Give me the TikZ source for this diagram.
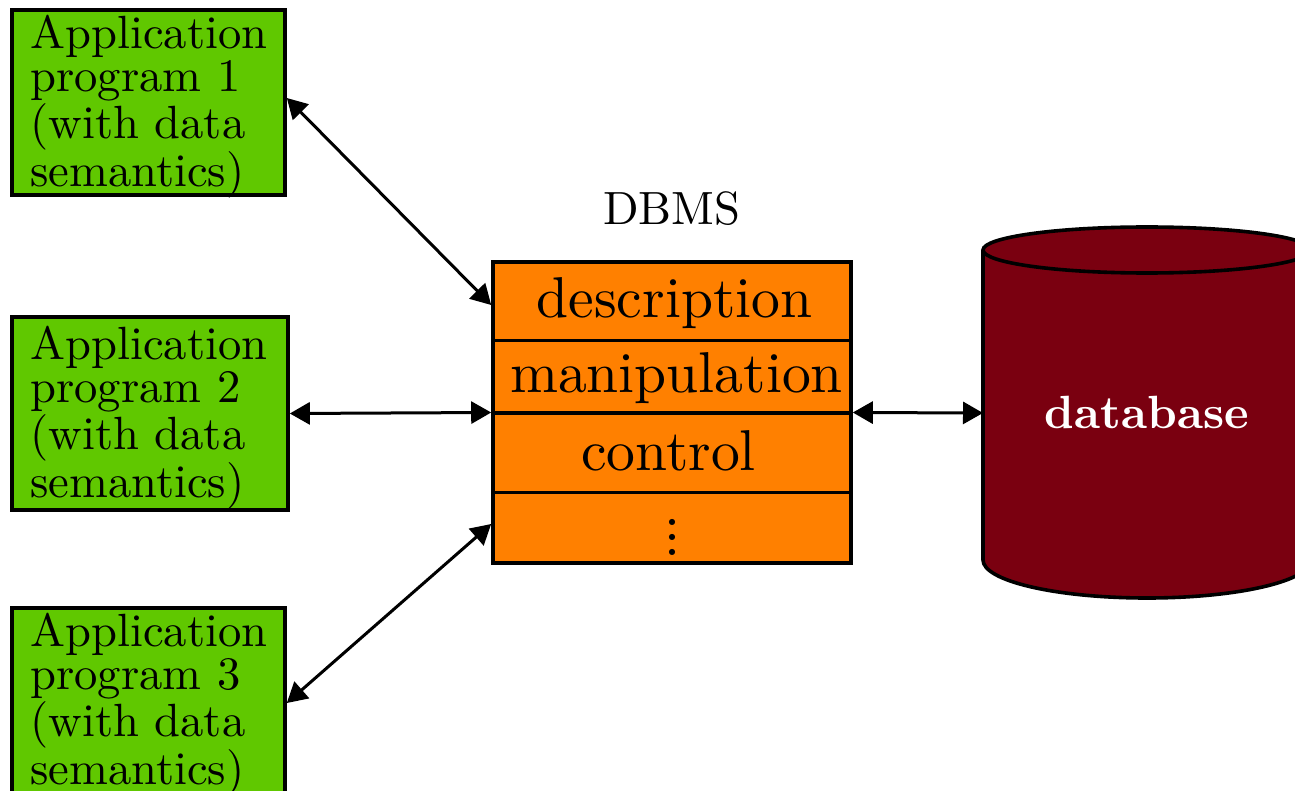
\documentclass[tikz,border=0pt]{standalone}
\usepackage{fontspec}
\setmainfont{lmroman10-regular}[Extension=.otf, BoldFont=lmroman10-bold]
\usetikzlibrary{arrows.meta}
\definecolor{appgreen}{RGB}{96,200,0}
\definecolor{dbmsorange}{RGB}{255,128,0}
\definecolor{dbred}{RGB}{122,0,16}
\newcommand\myvdots{\vbox{\baselineskip7.5pt\lineskiplimit0pt\hbox{.}\hbox{.}\hbox{.}}}
\begin{document}
\begin{tikzpicture}[x=0.5pt,y=-0.5pt,
  appbox/.style={draw, line width=1.8pt, fill=appgreen, rectangle, inner sep=0pt},
  apptext/.style={anchor=west, inner sep=0pt, align=left, font=\fontsize{23.3}{21.5}\selectfont},
  layertext/.style={anchor=base, inner sep=0pt, font=\fontsize{28.8}{30}\selectfont},
  link/.style={line width=1.5pt, {Triangle[length=10pt,width=11pt]}-{Triangle[length=10pt,width=11pt]}}]
\useasboundingbox (0,0) rectangle (1295,791);
% application programs
\node[appbox, minimum width=136.5pt, minimum height=92.5pt] (g1) at (148.5,102.5) {};
\node[apptext] (t1) at (30,107) {Application\\program 1\\(with data\\semantics)};
\node[appbox, minimum width=138pt, minimum height=96.5pt] (g2) at (150,413.5) {};
\node[apptext] (t2) at (30,418) {Application\\program 2\\(with data\\semantics)};
\node[appbox, minimum width=136.5pt, minimum height=92.5pt] (g3) at (148.5,700.5) {};
\node[apptext] (t3) at (30,705) {Application\\program 3\\(with data\\semantics)};
% DBMS
\node[anchor=base, inner sep=0pt, font=\fontsize{23.3}{21.5}\selectfont] (dbmslabel) at (672,225) {DBMS};
\node[draw, line width=1.8pt, fill=dbmsorange, rectangle, minimum width=179pt, minimum height=150.5pt] (dbms) at (672,412.5) {};
\draw[line width=1.5pt] (493,340) -- (851,340);
\draw[line width=2pt] (493,413) -- (851,413);
\draw[line width=1.5pt] (493,492) -- (851,492);
\node[layertext] (desc) at (674.5,317) {description};
\node[layertext] (manip) at (676.5,392) {manipulation};
\node[layertext] (ctrl) at (668.5,470) {control};
\node[anchor=south, inner sep=0pt, font=\fontsize{28.8}{30}\selectfont] (dots) at (672,556) {\myvdots};
% database cylinder
\draw[line width=1.8pt, fill=dbred] (983,250) -- (983,560)
  arc[start angle=180, end angle=0, x radius=164, y radius=38] -- (1311,250)
  arc[start angle=0, end angle=-180, x radius=164, y radius=23] -- cycle;
\draw[line width=1.8pt] (983,250) arc[start angle=180, end angle=0, x radius=164, y radius=23];
\node[anchor=base, inner sep=0pt, text=white, font=\fontsize{23.3}{21.5}\selectfont\bfseries] (db) at (1147,428) {database};
\coordinate (dbl) at (983,413);
% connectors
\draw[link] ([yshift=2.25pt]g1.east) -- ([yshift=53.75pt]dbms.west);
\draw[link] (g2.east) -- (dbms.west);
\draw[link] ([yshift=-1.25pt]g3.east) -- ([yshift=-55.75pt]dbms.west);
\draw[link] (dbms.east) -- (dbl);
\end{tikzpicture}
\end{document}
